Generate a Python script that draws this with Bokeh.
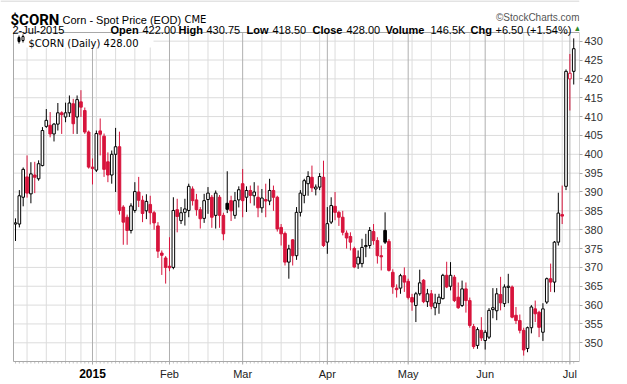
import pandas as pd
from bokeh.plotting import figure
from bokeh.models import Range1d, FixedTicker, Label, ColumnDataSource, BoxAnnotation
from bokeh.embed import file_html
from bokeh.resources import INLINE

# ---------------- data ----------------
start_date = "2014-12-03"
end_date = "2015-07-02"
holidays = ["2014-12-25", "2015-01-01", "2015-01-19", "2015-02-16", "2015-04-03", "2015-05-25"]

opens = [381.5, 381.5, 388.6, 394.0, 389.5, 394.5, 393.5, 397.0, 407.4, 407.7,
         405.4, 408.0, 411.0, 409.9, 411.0, 413.4, 409.9, 413.9, 411.6, 405.9,
         396.6, 395.8, 406.2, 404.8, 398.0, 394.5, 400.0, 402.0, 386.0, 383.3,
         379.8, 385.1, 390.0, 387.8, 385.0, 386.7, 384.5, 381.0, 373.8, 372.5,
         370.3, 370.0, 385.3, 382.4, 384.6, 385.1, 390.8, 387.9, 385.3, 383.0,
         388.0, 388.6, 383.8, 388.6, 383.8, 387.0, 387.7, 383.8, 387.9, 392.2,
         388.6, 390.4, 389.0, 388.6, 385.8, 388.0, 387.6, 390.4, 388.6, 380.6,
         379.0, 371.4, 377.3, 373.1, 384.6, 389.1, 392.2, 393.9, 390.8, 391.3,
         393.9, 376.7, 382.0, 386.2, 384.6, 383.3, 379.1, 378.2, 375.0, 370.9,
         371.0, 375.5, 375.8, 379.5, 377.1, 373.1, 379.8, 376.9, 368.7, 364.5,
         364.5, 367.8, 366.3, 362.0, 359.9, 363.0, 366.6, 360.9, 363.0, 359.3,
         360.4, 361.7, 367.9, 365.0, 367.4, 362.1, 359.9, 364.3, 361.2, 354.3,
         349.3, 353.3, 350.6, 351.5, 358.8, 358.5, 362.8, 360.4, 364.7, 364.8,
         357.3, 355.9, 353.3, 348.5, 354.0, 359.0, 358.1, 352.8, 360.8, 367.0,
         366.1, 376.7, 384.0, 391.5, 420.0, 422.0]
highs = [383.0, 390.5, 396.5, 399.7, 397.9, 398.0, 398.4, 407.2, 412.0, 411.2,
         408.3, 413.6, 411.4, 413.7, 415.6, 414.7, 415.6, 417.0, 412.4, 406.3,
         398.9, 406.3, 409.5, 405.5, 400.5, 401.0, 407.0, 406.0, 386.5, 384.0,
         387.0, 392.6, 394.0, 389.0, 389.4, 389.0, 385.0, 382.0, 374.5, 373.0,
         378.0, 388.6, 388.2, 386.0, 388.2, 392.2, 391.5, 389.5, 386.0, 389.5,
         391.3, 389.2, 390.4, 389.2, 384.5, 395.5, 389.0, 390.0, 391.5, 396.1,
         391.5, 391.7, 392.6, 391.7, 390.8, 392.2, 393.5, 391.7, 389.0, 381.5,
         379.5, 376.0, 377.5, 386.0, 390.5, 393.5, 395.5, 397.0, 392.0, 395.0,
         398.3, 386.0, 388.6, 390.0, 385.0, 385.0, 379.8, 379.3, 375.5, 374.5,
         377.6, 378.9, 380.7, 381.5, 378.0, 375.8, 384.6, 377.5, 369.5, 365.5,
         368.3, 370.0, 367.0, 363.0, 363.5, 369.4, 366.9, 364.3, 364.0, 363.0,
         363.0, 368.3, 371.5, 371.4, 368.0, 366.0, 366.5, 366.0, 362.0, 355.0,
         354.1, 356.8, 353.4, 359.2, 364.5, 364.5, 367.5, 365.5, 368.3, 365.2,
         359.5, 357.5, 354.0, 354.3, 360.0, 361.2, 358.5, 360.5, 367.3, 371.0,
         377.0, 389.8, 391.7, 422.5, 426.6, 430.75]
lows = [377.0, 380.6, 386.2, 388.5, 387.0, 389.7, 393.0, 396.8, 407.0, 404.5,
        403.4, 406.3, 405.4, 408.5, 409.9, 405.4, 405.4, 409.9, 405.4, 396.2,
        392.0, 395.3, 399.7, 394.0, 392.6, 392.2, 390.0, 384.0, 376.0, 376.0,
        379.0, 384.5, 386.0, 382.0, 382.8, 381.4, 380.0, 372.5, 368.0, 365.7,
        369.0, 369.5, 379.3, 381.5, 381.1, 383.3, 386.4, 383.7, 380.3, 381.8,
        384.2, 380.5, 380.3, 380.5, 377.2, 384.4, 382.3, 382.9, 385.9, 383.3,
        384.7, 387.0, 386.4, 383.3, 384.5, 383.3, 386.5, 385.0, 379.5, 375.8,
        370.5, 367.0, 370.5, 372.0, 383.5, 387.0, 389.0, 390.0, 389.1, 390.5,
        375.4, 373.6, 381.5, 382.5, 381.0, 378.5, 375.0, 374.5, 369.8, 369.6,
        370.0, 372.7, 375.0, 376.0, 371.0, 369.2, 376.2, 368.9, 363.0, 362.0,
        363.0, 363.5, 361.5, 358.5, 355.5, 362.5, 360.5, 359.5, 358.9, 357.3,
        357.7, 361.5, 364.5, 363.9, 360.8, 359.0, 359.5, 358.0, 354.0, 348.4,
        348.4, 350.5, 348.2, 351.0, 356.5, 356.0, 358.6, 359.5, 360.5, 356.5,
        355.0, 352.5, 346.6, 347.5, 352.5, 355.5, 351.5, 350.5, 360.3, 363.5,
        363.4, 375.8, 381.5, 390.5, 411.6, 418.5]
closes = [381.8, 389.0, 396.0, 389.7, 394.8, 393.9, 397.5, 406.3, 409.0, 405.4,
          408.0, 411.0, 410.5, 411.0, 413.6, 408.1, 414.5, 412.5, 405.9, 396.6,
          396.2, 405.5, 405.3, 396.0, 394.5, 400.0, 402.0, 385.1, 382.0, 379.8,
          386.3, 390.1, 387.8, 384.3, 387.5, 384.5, 381.8, 374.3, 373.2, 370.0,
          369.9, 385.1, 383.5, 384.5, 385.5, 391.5, 387.7, 385.3, 382.9, 387.7,
          389.7, 383.3, 389.7, 383.8, 378.9, 385.4, 385.0, 387.7, 390.6, 387.7,
          390.4, 389.1, 390.0, 385.8, 388.4, 387.6, 390.4, 388.6, 380.2, 378.9,
          371.4, 374.9, 373.1, 384.6, 389.7, 393.0, 394.1, 391.1, 391.3, 394.1,
          375.8, 381.6, 386.4, 384.6, 383.3, 379.3, 377.8, 376.7, 370.1, 372.7,
          375.3, 375.8, 379.8, 377.1, 373.1, 372.8, 376.7, 369.2, 364.8, 364.1,
          367.8, 366.1, 362.0, 360.8, 363.0, 365.9, 360.9, 363.0, 359.7, 360.6,
          362.1, 367.9, 364.8, 367.9, 361.2, 359.3, 364.3, 361.2, 354.6, 349.0,
          353.5, 351.3, 352.8, 358.6, 359.3, 363.0, 360.6, 364.8, 365.0, 356.8,
          355.9, 353.3, 348.1, 354.0, 359.5, 357.7, 354.1, 359.0, 367.0, 366.1,
          376.7, 384.4, 383.6, 422.0, 421.5, 428.0]
volume_label = "146.5K"
month_names = ["Jan", "Feb", "Mar", "Apr", "May", "Jun", "Jul", "Aug", "Sep", "Oct", "Nov", "Dec"]
price_ticks = [350, 355, 360, 365, 370, 375, 380, 385, 390, 395, 400, 405, 410, 415, 420, 425, 430]

# ---------------- derived ----------------
dates = pd.bdate_range(start_date, end_date, freq="C", holidays=holidays)
n = len(dates)
idx = list(range(n))
UP = "#000000"
DOWN = "#D7143C"
colors, fills = [], []
for i in idx:
    c = UP if (i == 0 or closes[i] >= closes[i - 1]) else DOWN
    colors.append(c)
    fills.append("#ffffff" if closes[i] > opens[i] else c)
tops = [max(o, c) for o, c in zip(opens, closes)]
bots = [min(o, c) for o, c in zip(opens, closes)]

week_starts = [i for i in idx[1:] if dates[i].isocalendar()[1] != dates[i - 1].isocalendar()[1]]
month_starts = [i for i in idx[1:] if dates[i].month != dates[i - 1].month]
week_only = [i for i in week_starts if i not in month_starts]

# ---------------- geometry (page px) ----------------
W, H = 627, 384
PL, PR, PT, PB = 13, 579, 32, 361   # price-panel box on the page
XS, XE = -0.52, n + 0.5
YS, YE = 345.04, 432.3
ux = (XE - XS) / (PR - PL)
uy = (YE - YS) / (PB - PT)
XF0 = XS - PL * ux
YF1 = YE + PT * uy
YF0 = YE - (H - PT) * uy


def px2x(px):
    return XS + (px - PL) * ux


def py2y(py):
    return YE - (py - PT) * uy


def x2px(x):
    return PL + (x - XS) / ux


p = figure(frame_width=PR, frame_height=H, x_range=Range1d(XF0, XE), y_range=Range1d(YF0, YF1),
           x_axis_location=None, y_axis_location="right", toolbar_location=None, output_backend="svg",
           min_border_left=0, min_border_top=0, min_border_bottom=0, min_border_right=W - PR,
           background_fill_color="white", border_fill_color="white", outline_line_color=None)
p.xgrid.visible = False
p.ygrid.visible = False

ya = p.yaxis[0]
ya.ticker = FixedTicker(ticks=price_ticks, minor_ticks=[])
ya.major_label_text_font_size = "11px"
ya.major_label_text_font = "Liberation Sans"
ya.major_label_text_color = "#333333"
ya.major_tick_out = 3
ya.major_tick_in = 0
ya.minor_tick_out = 0
ya.minor_tick_in = 0
ya.major_label_standoff = 2
ya.axis_line_color = None
ya.major_tick_line_color = "#a8a8a8"

# thin rule along the top of the image
p.segment(x0=[XF0], x1=[XE], y0=[py2y(0.5)], y1=[py2y(0.5)], line_color="#c8c8c8", line_width=1)

# grid lines inside the price panel
p.segment(x0=XS, x1=XE, y0=price_ticks, y1=price_ticks, line_color="#dcdcdc", line_width=1)
p.segment(x0=week_only, x1=week_only, y0=YS, y1=YE, line_color="#dcdcdc", line_width=1)
p.segment(x0=month_starts, x1=month_starts, y0=YS, y1=YE, line_color="#b0b0b0", line_width=1)
# daily minor ticks and monthly ticks under the panel
p.segment(x0=idx, x1=idx, y0=YS, y1=YS - 2 * uy, line_color="#c4c4c4", line_width=1)
p.segment(x0=month_starts, x1=month_starts, y0=YS, y1=YS - 3 * uy, line_color="#a8a8a8", line_width=1)

# legend background
p.add_layout(BoxAnnotation(left=px2x(PL + 0.5), right=px2x(153), top=py2y(PT + 0.5), bottom=py2y(47),
                           fill_color="white", fill_alpha=1, line_color=None, level="glyph"))

src = ColumnDataSource(dict(x=idx, high=highs, low=lows, top=tops, bottom=bots, color=colors, fill=fills))
p.segment(x0="x", y0="low", x1="x", y1="high", line_color="color", line_width=1, source=src)
p.vbar(x="x", width=0.68, top="top", bottom="bottom", fill_color="fill", line_color="color",
       line_width=1, source=src)

# panel border
p.quad(left=[XS], right=[XE], bottom=[YS], top=[YE], fill_color=None, line_color="#a8a8a8", line_width=1)

# small candlestick icon in front of the legend text
p.segment(x0=[px2x(18.5), px2x(22.5)], x1=[px2x(18.5), px2x(22.5)],
          y0=[py2y(43), py2y(42)], y1=[py2y(35), py2y(34)], line_color="#000000", line_width=1,
          level="overlay")
p.quad(left=[px2x(17.5), px2x(21.5)], right=[px2x(19.5), px2x(23.5)],
       top=[py2y(37), py2y(36)], bottom=[py2y(41), py2y(40)],
       fill_color=["#000000", "#ffffff"], line_color="#000000", line_width=1, level="overlay")


def lab(text, px, py, size, bold=False, font="Liberation Sans", color="#000000", align="left"):
    p.add_layout(Label(x=px2x(px), y=py2y(py), text=text, text_font=font, text_font_size=size,
                       text_font_style="bold" if bold else "normal", text_color=color,
                       text_align=align, text_baseline="alphabetic"))


# month labels
for i in month_starts:
    d = dates[i]
    if d.month == 1:
        lab(str(d.year), x2px(i), 373, "12px", bold=True, align="center")
    else:
        lab(month_names[d.month - 1], x2px(i), 373, "11px", align="center", color="#222222")

# header line 1
lab("$CORN", 10, 19, "15px", bold=True, font="Roboto")
lab("Corn - Spot Price (EOD)", 62, 19, "11px")
lab("CME", 184, 19, "10px", font="DejaVu Sans")
lab("\u00a9StockCharts.com", 579, 17, "10px", color="#555555", align="right")

# header line 2
last = n - 1
chg = closes[last] - closes[last - 1]
pct = chg / closes[last - 1] * 100
day = dates[last]
parts = [("%d-%s-%d" % (day.day, month_names[day.month - 1], day.year), 12, False),
         ("Open", 110, True), ("%.2f" % opens[last], 142, False),
         ("High", 178, True), ("%.2f" % highs[last], 206, False), ("Low", 246, True),
         ("%.2f" % lows[last], 272, False), ("Close", 312, True), ("%.2f" % closes[last], 346, False),
         ("Volume", 385, True), (volume_label, 430, False), ("Chg", 470, True),
         ("%+.2f (%+.2f%%)" % (chg, pct), 495, False)]
for t, x, b in parts:
    lab(t, x, 29, "11px", bold=b)
lab("\u25b2", 573, 28, "8px", color="#2e8b2e")

# legend
lab("$CORN (Daily) %.2f" % closes[last], 28, 43, "10px", font="DejaVu Sans")

open("out.html", "w").write(file_html(p, INLINE))
